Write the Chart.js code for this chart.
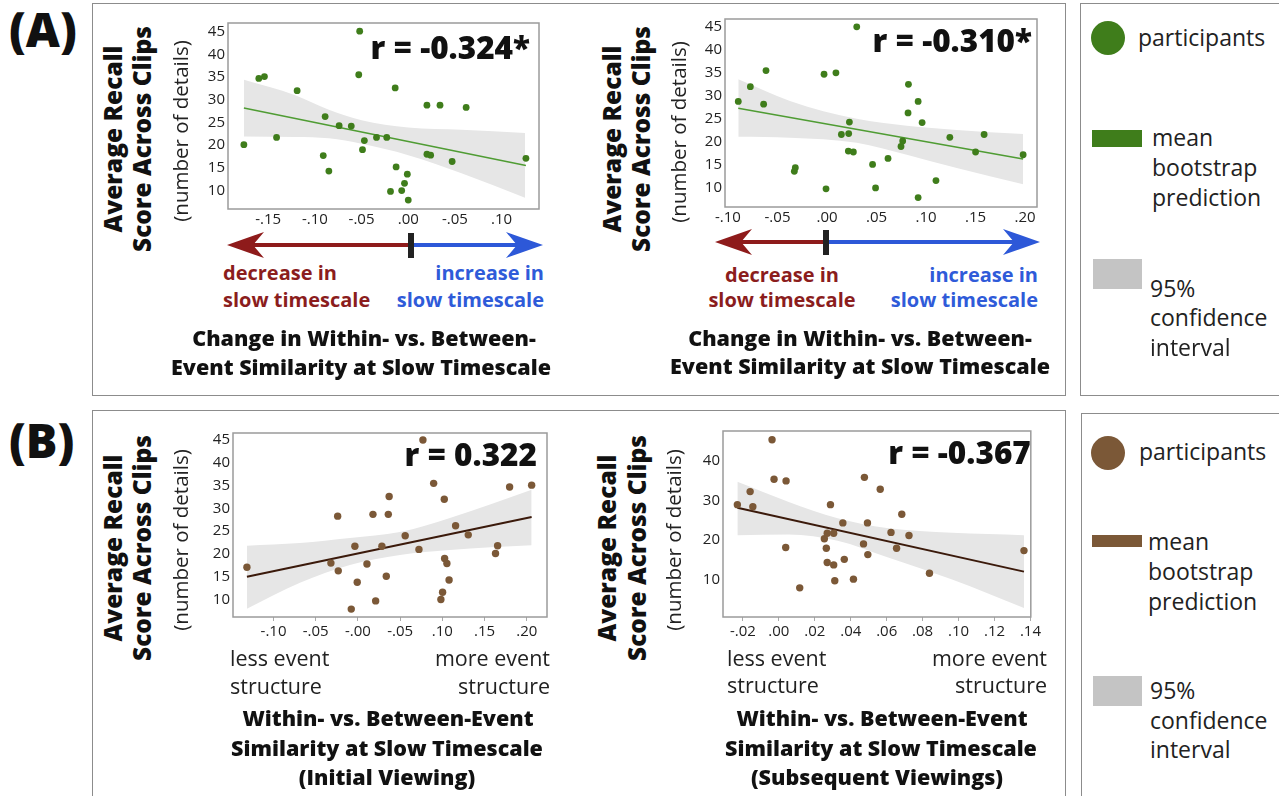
<!DOCTYPE html>
<html>
<head>
<meta charset="utf-8">
<script src="https://cdn.jsdelivr.net/npm/chart.js@4.4.0/dist/chart.umd.min.js"></script>
<style>
  body { margin: 0; background: #fff; width: 1279px; height: 796px; overflow: hidden; position: relative; font-family: "Open Sans", Lato, sans-serif; color: #111; }
  .box { position: absolute; border: 1.5px solid #8c8c8c; box-sizing: border-box; }
  .t { position: absolute; white-space: nowrap; line-height: 1; }
</style>
</head>
<body>
<div class="box" style="left:92px;top:3px;width:974px;height:393px"></div>
<div class="box" style="left:1080px;top:3px;width:220px;height:393px"></div>
<div class="box" style="left:92px;top:410px;width:974px;height:400px"></div>
<div class="box" style="left:1081px;top:413px;width:220px;height:400px"></div>

<svg width="1279" height="796" style="position:absolute;left:0;top:0">
  <!-- A1 arrows -->
  <line x1="245" y1="245" x2="409" y2="245" stroke="#8e1b1b" stroke-width="4"/>
  <polygon points="227,245 264,232 253,245 264,258" fill="#8e1b1b"/>
  <line x1="412" y1="245" x2="525" y2="245" stroke="#2d58d8" stroke-width="4"/>
  <polygon points="543,245 506,232 517,245 506,258" fill="#2d58d8"/>
  <rect x="408" y="233" width="6" height="25" fill="#222"/>
  <!-- A2 arrows -->
  <line x1="733" y1="242" x2="825" y2="242" stroke="#8e1b1b" stroke-width="4"/>
  <polygon points="715,242 752,229 741,242 752,255" fill="#8e1b1b"/>
  <line x1="828" y1="242" x2="1022" y2="242" stroke="#2d58d8" stroke-width="4"/>
  <polygon points="1040,242 1003,229 1014,242 1003,255" fill="#2d58d8"/>
  <rect x="823" y="230" width="6" height="25" fill="#222"/>
</svg>

<canvas id="a1"></canvas>
<canvas id="a2"></canvas>
<canvas id="b1"></canvas>
<canvas id="b2"></canvas>

<script>
// ---- data ----
const a1X = [-0.176,-0.160,-0.154,-0.141,-0.119,-0.091,-0.089,-0.085,-0.074,-0.061,-0.052,-0.053,-0.049,-0.047,-0.034,-0.023,-0.019,-0.014,-0.013,-0.007,-0.004,-0.001,0.000,0.020,0.020,0.024,0.034,0.047,0.062,0.126];
const a1Y = [20.1,34.7,35.1,21.7,32.0,17.7,26.3,14.3,24.3,24.2,45.1,35.5,19.0,21.0,21.7,21.7,9.8,32.6,15.2,10.0,11.6,13.6,7.9,28.8,18.0,17.8,28.8,16.4,28.3,17.1];
const a1FitX = [-0.176, 0.126];
const a1FitY = [28.2, 15.5];
const a1BandX = [-0.176,-0.121,-0.085,-0.050,0.000,0.057,0.125];
const a1BandUp = [34.4,31.0,27.8,25.5,23.9,23.4,22.7];
const a1BandLo = [21.9,21.8,21.5,20.3,17.8,13.8,8.4];
const a1TickVals = [-0.15,-0.10,-0.05,0,0.05,0.10];
const a1TickLabels = ['-.15','-.10','-.05','.00','-.05','.10'];

const a2X = [-0.0896,-0.0774,-0.064,-0.0616,-0.032,-0.033,-0.003,-0.001,0.009,0.0145,0.0215,0.0219,0.0226,0.0266,0.030,0.046,0.049,0.0616,0.0747,0.0764,0.0818,0.0822,0.092,0.092,0.096,0.110,0.124,0.150,0.1586,0.198];
const a2Y = [28.8,32.0,28.2,35.5,14.4,13.6,34.7,9.8,35.0,21.6,18.0,21.8,24.3,17.8,45.0,15.1,10.0,16.4,19.0,20.2,26.3,32.5,28.8,7.9,24.2,11.6,21.0,17.8,21.6,17.2];
const a2FitX = [-0.0896, 0.198];
const a2FitY = [27.3, 16.3];
const a2BandX = [-0.0896,-0.0374,0.030,0.0805,0.131,0.198];
const a2BandUp = [33.6,28.9,25.0,23.5,22.6,21.7];
const a2BandLo = [21.1,20.9,19.8,17.2,14.3,10.8];
const a2TickVals = [-0.10,-0.05,0,0.05,0.10,0.15,0.20];
const a2TickLabels = ['-.10','-.05','.00','.05','.10','.15','.20'];

const b1X = [-0.1315,-0.032,-0.024,-0.0233,-0.0079,-0.0036,-0.0008,0.0107,0.0178,0.021,0.0284,0.0336,0.036,0.037,0.056,0.0723,0.077,0.0897,0.0983,0.1003,0.1023,0.1027,0.1054,0.108,0.1157,0.1307,0.163,0.1655,0.1797,0.2058];
const b1Y = [17.1,18.0,28.3,16.3,7.9,21.7,13.8,17.8,28.7,9.7,21.7,15.1,28.7,32.6,24.0,21.0,45.0,35.5,10.0,11.6,32.0,19.0,17.9,14.3,26.2,24.2,20.1,21.8,34.7,35.1];
const b1FitX = [-0.1315, 0.2058];
const b1FitY = [15.0, 28.1];
const b1BandX = [-0.1315,-0.0687,-0.0095,0.0498,0.109,0.2058];
const b1BandUp = [21.8,22.4,23.5,24.8,27.9,34.1];
const b1BandLo = [8.0,13.7,17.6,19.8,20.9,21.9];
const b1TickVals = [-0.10,-0.05,0,0.05,0.10,0.15,0.20];
const b1TickLabels = ['-.10','-.05','-.00','-.05','.10','.15','.20'];

const b2X = [-0.0231,-0.016,-0.0145,-0.0038,-0.0027,0.004,0.0038,0.0116,0.0253,0.0264,0.0269,0.0269,0.0287,0.0305,0.0305,0.0311,0.0356,0.0364,0.0415,0.0471,0.0476,0.0493,0.0495,0.0564,0.0624,0.0655,0.0684,0.0724,0.0838,0.1364];
const b2Y = [28.9,32.2,28.4,45.3,35.3,34.9,18.1,7.9,20.3,17.9,21.7,14.3,28.9,21.7,13.7,9.7,24.3,15.1,10.1,19.0,35.8,24.3,16.3,32.8,21.9,17.9,26.5,21.1,11.6,17.3];
const b2FitX = [-0.0231, 0.1364];
const b2FitY = [28.1, 12.0];
const b2BandX = [-0.0231,0.0055,0.0327,0.060,0.0964,0.1364];
const b2BandUp = [34.7,29.6,25.5,23.0,21.8,21.2];
const b2BandLo = [21.2,21.4,19.8,15.7,10.0,2.8];
const b2TickVals = [-0.02,0,0.02,0.04,0.06,0.08,0.10,0.12,0.14];
const b2TickLabels = ['-.02','.00','.02','.04','.06','.08','.10','.12','.14'];

const yTicks5 = [10,15,20,25,30,35,40,45];
const yTicks10 = [10,20,30,40];

const green = '#3f7d1b';
const greenLine = '#4f9c33';
const brown = '#7b5837';
const brownLine = '#3b1a0b';
const band = '#e6e6e6';
const FONT = '"Open Sans"';

// ---- helpers ----
function pts(xs, ys) { return xs.map((x, i) => ({x: x, y: ys[i]})); }

const framePlugin = {
  id: 'rLabel',
  beforeDatasetsDraw(chart) {
    const a = chart.chartArea, ctx = chart.ctx;
    ctx.save();
    ctx.strokeStyle = '#9b9b9b';
    ctx.lineWidth = 1.5;
    ctx.strokeRect(a.left, a.top, a.right - a.left, a.bottom - a.top);
    ctx.restore();
  },
  afterDraw(chart, args, opts) {
    const a = chart.chartArea, ctx = chart.ctx;
    ctx.save();
    ctx.font = '800 31.5px ' + FONT;
    ctx.fillStyle = '#111';
    ctx.textAlign = 'right';
    ctx.fillText(opts.text, a.right + opts.dx, a.top + opts.dy);
    ctx.restore();
  }
};

function makeChart(id, c) {
  const cvs = document.getElementById(id);
  cvs.width = c.w + 48;
  cvs.height = c.h + 36;
  cvs.style.left = (c.left - 42) + 'px';
  cvs.style.top = (c.top - 6) + 'px';
  cvs.style.position = 'absolute';
  const tickFont = {family: FONT, size: 15};
  return new Chart(cvs.getContext('2d'), {
    type: 'line',
    plugins: [framePlugin],
    data: {
      datasets: [
        {data: pts(c.xs, c.ys), showLine: false, pointRadius: c.r, pointHoverRadius: c.r,
         pointBackgroundColor: c.color, pointBorderWidth: 0, order: 1},
        {data: pts(c.fitX, c.fitY), borderColor: c.lineColor, borderWidth: c.lw, pointRadius: 0, order: 2},
        {data: pts(c.bandX, c.bandUp), borderWidth: 0, pointRadius: 0, fill: '+1',
         backgroundColor: band, cubicInterpolationMode: 'monotone', order: 3},
        {data: pts(c.bandX, c.bandLo), borderWidth: 0, pointRadius: 0, fill: false,
         cubicInterpolationMode: 'monotone', order: 4}
      ]
    },
    options: {
      responsive: false,
      animation: false,
      layout: {padding: {top: 6, right: 6, left: 0, bottom: 0}},
      plugins: {
        legend: {display: false},
        tooltip: {enabled: false},
        rLabel: {text: c.rText, dx: c.dx, dy: c.dy}
      },
      scales: {
        x: {
          type: 'linear', min: c.xMin, max: c.xMax,
          grid: {display: c.tickMarks, drawOnChartArea: false, drawTicks: c.tickMarks, tickLength: 4, color: '#aaa'},
          border: {display: false},
          afterBuildTicks: s => { s.ticks = c.xTicks.map(v => ({value: v})); },
          afterFit: s => { s.height = 30; },
          ticks: {color: '#222', font: tickFont, padding: 2, maxRotation: 0,
                  callback: (v, i) => c.xLabels[i]}
        },
        y: {
          type: 'linear', min: c.yMin, max: c.yMax,
          grid: {display: false, drawTicks: false},
          border: {display: false},
          afterBuildTicks: s => { s.ticks = c.yTicks.map(v => ({value: v})); },
          afterFit: s => { s.width = 42; },
          ticks: {color: '#222', font: tickFont, padding: 3}
        }
      }
    }
  });
}

makeChart('a1', {left: 228, top: 17, w: 311, h: 192, xs: a1X, ys: a1Y, fitX: a1FitX, fitY: a1FitY,
  bandX: a1BandX, bandUp: a1BandUp, bandLo: a1BandLo, xTicks: a1TickVals, xLabels: a1TickLabels,
  yTicks: yTicks5, xMin: -0.193, xMax: 0.140, yMin: 5.94, yMax: 46.9, color: green, lineColor: greenLine,
  lw: 1.5, r: 3.4, rText: 'r = -0.324*', dx: -9, dy: 36, tickMarks: false});
makeChart('a2', {left: 725, top: 13, w: 312, h: 194, xs: a2X, ys: a2Y, fitX: a2FitX, fitY: a2FitY,
  bandX: a2BandX, bandUp: a2BandUp, bandLo: a2BandLo, xTicks: a2TickVals, xLabels: a2TickLabels,
  yTicks: yTicks5, xMin: -0.103, xMax: 0.212, yMin: 5.85, yMax: 46.7, color: green, lineColor: greenLine,
  lw: 1.5, r: 3.4, rText: 'r = -0.310*', dx: -5, dy: 33, tickMarks: false});
makeChart('b1', {left: 233, top: 427, w: 314, h: 190, xs: b1X, ys: b1Y, fitX: b1FitX, fitY: b1FitY,
  bandX: b1BandX, bandUp: b1BandUp, bandLo: b1BandLo, xTicks: b1TickVals, xLabels: b1TickLabels,
  yTicks: yTicks5, xMin: -0.148, xMax: 0.224, yMin: 6.17, yMax: 46.55, color: brown, lineColor: brownLine,
  lw: 2, r: 3.7, rText: 'r = 0.322', dx: -10, dy: 33, tickMarks: true});
makeChart('b2', {left: 723, top: 425, w: 314, h: 192, xs: b2X, ys: b2Y, fitX: b2FitX, fitY: b2FitY,
  bandX: b2BandX, bandUp: b2BandUp, bandLo: b2BandLo, xTicks: b2TickVals, xLabels: b2TickLabels,
  yTicks: yTicks10, xMin: -0.0311, xMax: 0.1402, yMin: 0.54, yMax: 47.5, color: brown, lineColor: brownLine,
  lw: 2, r: 3.7, rText: 'r = -0.367', dx: 0, dy: 33, tickMarks: true});

// ---- text around the charts ----
function txt(s, x, y, style, align) {
  const d = document.createElement('div');
  d.className = 't';
  d.textContent = s;
  d.style.cssText = style + ';left:' + x + 'px;top:' + y + 'px';
  const tx = align === 'center' ? '-50%' : align === 'right' ? '-100%' : '0';
  d.style.transform = 'translate(' + tx + ',-50%)';
  document.body.appendChild(d);
}
function vtxt(s, x, y, style) {
  const d = document.createElement('div');
  d.className = 't';
  d.textContent = s;
  d.style.cssText = style + ';left:' + x + 'px;top:' + y + 'px';
  d.style.transform = 'translate(-50%,-50%) rotate(-90deg)';
  document.body.appendChild(d);
}

const big = 'font-size:47px;font-weight:800';
const ytB = 'font-size:24.5px;font-weight:800';
const ytN = 'font-size:20.5px;font-weight:400;color:#222';
const redT = 'font-size:20px;font-weight:700;color:#8b1d1d';
const blueT = 'font-size:20px;font-weight:700;color:#2f5bd9';
const ttl = 'font-size:21.5px;font-weight:800';
const nrm = 'font-size:21.5px;font-weight:400;color:#222';
const leg = 'font-size:23px;font-weight:400;color:#222';

txt('(A)', 9, 29, big, 'left');
txt('(B)', 9, 440, big, 'left');

// y titles
[[113, 142, 180, 139, 131], [612, 641, 678, 139, 132], [113, 142, 180, 548, 540], [607, 637, 673, 548, 540]].forEach(p => {
  vtxt('Average Recall', p[0], p[3], ytB);
  vtxt('Score Across Clips', p[1], p[3], ytB);
  vtxt('(number of details)', p[2], p[4], ytN);
});

// A arrows text
txt('decrease in', 223, 273, redT, 'left');
txt('slow timescale', 223, 300, redT, 'left');
txt('increase in', 544, 273, blueT, 'right');
txt('slow timescale', 544, 300, blueT, 'right');
txt('decrease in', 782, 275, redT, 'center');
txt('slow timescale', 782, 300, redT, 'center');
txt('increase in', 1038, 275, blueT, 'right');
txt('slow timescale', 1038, 300, blueT, 'right');

txt('Change in Within- vs. Between-', 364, 338, ttl, 'center');
txt('Event Similarity at Slow Timescale', 361, 367, ttl, 'center');
txt('Change in Within- vs. Between-', 860, 338, ttl, 'center');
txt('Event Similarity at Slow Timescale', 860, 366, ttl, 'center');

// B bottom text
txt('less event', 230, 658, nrm, 'left');
txt('structure', 230, 686, nrm, 'left');
txt('more event', 550, 658, nrm, 'right');
txt('structure', 550, 686, nrm, 'right');
txt('Within- vs. Between-Event', 388, 718, ttl, 'center');
txt('Similarity at Slow Timescale', 387, 748, ttl, 'center');
txt('(Initial Viewing)', 387, 777, ttl, 'center');

txt('less event', 727, 658, nrm, 'left');
txt('structure', 727, 685, nrm, 'left');
txt('more event', 1047, 658, nrm, 'right');
txt('structure', 1047, 685, nrm, 'right');
txt('Within- vs. Between-Event', 882, 718, ttl, 'center');
txt('Similarity at Slow Timescale', 881, 748, ttl, 'center');
txt('(Subsequent Viewings)', 877, 777, ttl, 'center');

// legends
function legend(top, color, rectTop, rectH, grayTop, textRows) {
  const dot = document.createElement('div');
  dot.style.cssText = 'position:absolute;left:1091px;top:' + (top - 17) + 'px;width:34px;height:34px;border-radius:50%;background:' + color;
  document.body.appendChild(dot);
  const r1 = document.createElement('div');
  r1.style.cssText = 'position:absolute;left:1092px;top:' + rectTop + 'px;width:50px;height:' + rectH + 'px;background:' + color;
  document.body.appendChild(r1);
  const r2 = document.createElement('div');
  r2.style.cssText = 'position:absolute;left:1093px;top:' + grayTop + 'px;width:49px;height:30px;background:#c4c4c4';
  document.body.appendChild(r2);
  textRows.forEach(r => txt(r[0], r[1], r[2], leg, 'left'));
}
legend(38, green, 130, 17, 259, [['participants', 1138, 37], ['mean', 1152, 137], ['bootstrap', 1152, 167],
  ['prediction', 1152, 197], ['95%', 1150, 288], ['confidence', 1150, 317], ['interval', 1150, 347]]);
legend(453, brown, 535, 12, 676, [['participants', 1139, 451], ['mean', 1148, 541], ['bootstrap', 1148, 571],
  ['prediction', 1148, 601], ['95%', 1150, 690], ['confidence', 1150, 720], ['interval', 1150, 749]]);
</script>
</body>
</html>
